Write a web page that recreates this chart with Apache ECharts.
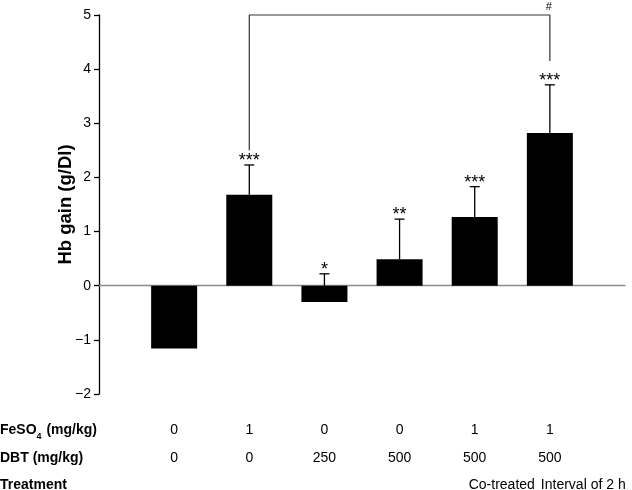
<!DOCTYPE html>
<html>
<head>
<meta charset="utf-8">
<script src="https://cdn.jsdelivr.net/npm/echarts@6/dist/echarts.min.js"></script>
<style>
html,body{margin:0;padding:0;background:#fff;}
#chart{width:632px;height:490px;}
</style>
</head>
<body>
<div id="chart"></div>
<script>
// ---- data ----
const groupPositions = [1, 2, 3, 4, 5, 6];
const hbGain = [-1.16, 1.68, -0.30, 0.49, 1.27, 2.82];
const errorTop = [null, 2.23, 0.22, 1.23, 1.83, 3.71];
const significance = ['', '***', '*', '**', '***', '***'];
const feso4Doses = ['0', '1', '0', '0', '1', '1'];
const dbtDoses = ['0', '0', '250', '500', '500', '500'];
const treatments = ['', '', '', '', 'Co-treated', 'Interval of 2 h'];
const bracketPoints = [[2, 2.5], [2, 5], [6, 5], [6, 4.15]];
const bracketMark = [[6, 5, '#']];
const yTicks = { min: -2, max: 5, interval: 1 };

const FONT = '"Liberation Sans", Arial, Helvetica, sans-serif';

const chart = echarts.init(document.getElementById('chart'), null, { renderer: 'canvas' });

function rowAxis(labels, margin) {
  return {
    type: 'value', min: 0, max: 7, interval: 1, position: 'bottom',
    axisLine: { show: false, onZero: false },
    axisTick: { show: false },
    splitLine: { show: false },
    axisLabel: {
      margin: margin, color: '#000', fontSize: 14, fontFamily: FONT,
      showMinLabel: true, showMaxLabel: true,
      formatter: v => { const i = groupPositions.indexOf(v); return i >= 0 ? labels[i] : ''; }
    }
  };
}

const treatAxis = rowAxis(treatments, 84);
treatAxis.axisLabel.align = 'left';
treatAxis.axisLabel.formatter = v => {
  const i = groupPositions.indexOf(v);
  if (i < 0 || !treatments[i]) return '';
  return (i === 4 ? '{a|' : '{b|') + treatments[i] + '}';
};
treatAxis.axisLabel.rich = {
  a: { fontSize: 14, fontFamily: FONT, color: '#000', padding: [0, 0, 0, -6] },
  b: { fontSize: 14, fontFamily: FONT, color: '#000', padding: [0, 0, 0, -9] }
};

const option = {
  backgroundColor: '#fff',
  animation: false,
  grid: { left: 99, width: 526, top: 15, height: 379, containLabel: false, outerBoundsMode: 'none' },
  xAxis: [
    {
      type: 'value', min: 0, max: 7, interval: 1,
      axisLine: { show: true, onZero: true, lineStyle: { color: '#8a8a8a', width: 1.3 } },
      axisTick: { show: false }, axisLabel: { show: false }, splitLine: { show: false }
    },
    rowAxis(feso4Doses, 29),
    rowAxis(dbtDoses, 57),
    treatAxis
  ],
  yAxis: {
    type: 'value', min: yTicks.min, max: yTicks.max, interval: yTicks.interval,
    name: 'Hb gain (g/Dl)', nameLocation: 'middle', nameGap: 24, nameMoveOverlap: false,
    nameTextStyle: { fontSize: 18.5, fontWeight: 'bold', color: '#000', fontFamily: FONT },
    axisLine: { show: true, onZero: false, lineStyle: { color: '#000', width: 1.3 } },
    axisTick: { show: true, length: 5, inside: false, lineStyle: { color: '#000', width: 1.3 } },
    splitLine: { show: false },
    axisLabel: {
      margin: 8, color: '#000', fontSize: 14, fontFamily: FONT,
      formatter: v => v < 0 ? '\u2212' + Math.abs(v) : String(v)
    }
  },
  graphic: [
    { type: 'text', left: 0, top: 423, style: {
        text: '{b|FeSO}{s|4}{b| (mg/kg)}',
        rich: {
          b: { fontSize: 14, fontWeight: 'bold', fontFamily: FONT, fill: '#000', verticalAlign: 'bottom', lineHeight: 16 },
          s: { fontSize: 9, fontWeight: 'bold', fontFamily: FONT, fill: '#000', verticalAlign: 'bottom', lineHeight: 10, padding: [0, 1, -4, 0] }
        }
    } },
    { type: 'text', left: 0, top: 451, style: { text: 'DBT (mg/kg)', font: 'bold 14px ' + FONT, fill: '#000' } },
    { type: 'text', left: 0, top: 478, style: { text: 'Treatment', font: 'bold 14px ' + FONT, fill: '#000' } }
  ],
  series: [
    {
      type: 'custom', name: 'error', z: 1, xAxisIndex: 0,
      data: groupPositions.map((x, i) => [x, hbGain[i], errorTop[i] == null ? NaN : errorTop[i], i]),
      renderItem: (params, api) => {
        const x = api.value(0), v = api.value(1), t = api.value(2), i = api.value(3);
        const children = [];
        if (!isNaN(t)) {
          const p0 = api.coord([x, v]);
          const p1 = api.coord([x, t]);
          children.push({ type: 'line', shape: { x1: p0[0], y1: p0[1], x2: p1[0], y2: p1[1] }, style: { stroke: '#000', lineWidth: 1.3 } });
          children.push({ type: 'line', shape: { x1: p1[0] - 5, y1: p1[1], x2: p1[0] + 5, y2: p1[1] }, style: { stroke: '#000', lineWidth: 1.3 } });
          if (significance[i]) {
            children.push({ type: 'text', x: p1[0], y: p1[1] + 5,
              style: { text: significance[i], font: '18px ' + FONT, fill: '#000', align: 'center', verticalAlign: 'bottom' } });
          }
        }
        return { type: 'group', children };
      }
    },
    {
      type: 'bar', name: 'Hb gain', z: 2, xAxisIndex: 0,
      barWidth: 46,
      itemStyle: { color: '#000' },
      data: groupPositions.map((x, i) => [x, hbGain[i]])
    },
    {
      type: 'line', name: 'bracket', xAxisIndex: 0, clip: false,
      symbol: 'none', showSymbol: false,
      lineStyle: { color: '#333', width: 1.2 },
      data: bracketPoints, z: 3
    },
    {
      type: 'custom', name: 'mark', xAxisIndex: 0, clip: false,
      data: bracketMark,
      renderItem: (params, api) => {
        const p = api.coord([api.value(0), api.value(1)]);
        return { type: 'text', x: p[0] - 1, y: p[1] - 3,
          style: { text: bracketMark[params.dataIndex][2], font: '11px ' + FONT, fill: '#000', align: 'center', verticalAlign: 'bottom' } };
      }
    }
  ]
};
chart.setOption(option);
</script>
</body>
</html>
